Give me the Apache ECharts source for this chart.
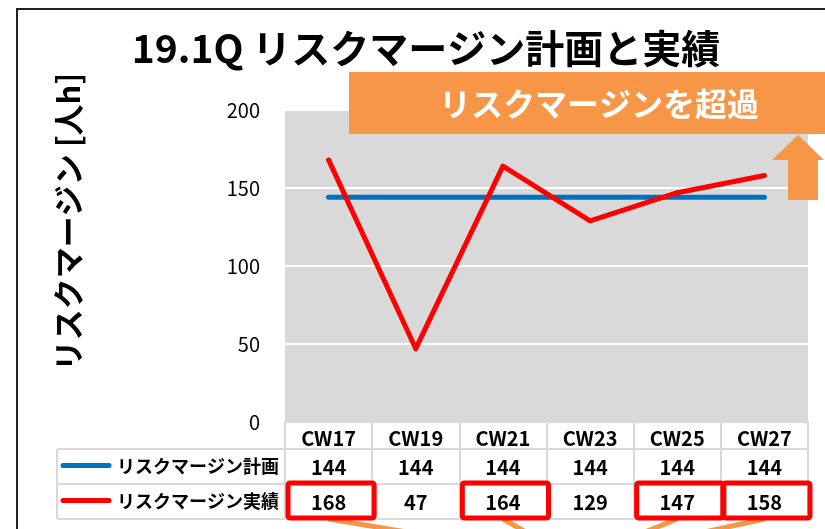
<!DOCTYPE html>
<html><head><meta charset="utf-8">
<script src="https://cdn.jsdelivr.net/npm/echarts@6/dist/echarts.min.js"></script>
<style>html,body{margin:0;padding:0;background:#fff;}#c{width:825px;height:529px;}</style>
</head><body><div id="c"></div>
<script>
const categories = ['CW17','CW19','CW21','CW23','CW25','CW27'];
const planValues = [144,144,144,144,144,144];
const actualValues = [168,47,164,129,147,158];
const yTicks = [0,50,100,150,200];
const seriesNames = ['リスクマージン計画','リスクマージン実績'];
const titleText = '19.1Q リスクマージン計画と実績';
const yAxisName = 'リスクマージン [人h]';
const bannerText = 'リスクマージンを超過';

const FONT = '"Noto Sans CJK JP", "Noto Sans", sans-serif';
const BLUE = '#0070C0', RED = '#FF0000', ORANGE = '#F79646', TBL = '#D9D9D9';

const chart = echarts.init(document.getElementById('c'), null, {renderer:'canvas'});
const lblStyle = {color:'#000', fontSize:20, fontWeight:'bold', fontFamily:FONT};
function tableAxis(offset, values, tickLen, margin, showLabel){
  return {
    type:'category', data:categories, gridIndex:0, position:'bottom', offset:offset,
    axisLine:{show:true, lineStyle:{color:TBL, width:2}},
    axisTick:{show:tickLen>0, length:tickLen, lineStyle:{color:TBL, width:2}},
    axisLabel:Object.assign({show:showLabel, margin:margin, interval:0,
      formatter:(v, i)=> values ? String(values[i]) : v}, lblStyle),
    splitLine:{show:false}
  };
}
chart.setOption({
  animation:false,
  grid:{left:285, right:17, top:110, bottom:107, show:true, backgroundColor:'#D9D9D9', borderWidth:0},
  xAxis:[
    tableAxis(0, null, 27, 6, true),
    tableAxis(27, planValues, 35, 8, true),
    tableAxis(62, actualValues, 35, 8, true),
    tableAxis(97, null, 0, 8, false)
  ],
  yAxis:{type:'value', min:yTicks[0], max:yTicks[yTicks.length-1], interval:yTicks[1]-yTicks[0],
    axisLine:{show:false}, axisTick:{show:false},
    axisLabel:{color:'#000', fontSize:20, fontFamily:FONT, margin:25},
    splitLine:{show:true, lineStyle:{color:'#FFFFFF', width:2}}},
  series:[
    {name:seriesNames[0], type:'line', data:planValues, xAxisIndex:0, symbol:'none',
      lineStyle:{color:BLUE, width:5, cap:'round', join:'round'}, z:3},
    {name:seriesNames[1], type:'line', data:actualValues, xAxisIndex:0, symbol:'none',
      lineStyle:{color:RED, width:5, cap:'round', join:'round'}, z:4}
  ]
});

const x0 = chart.convertToPixel({xAxisIndex:0}, 0);
const x1 = chart.convertToPixel({xAxisIndex:0}, 1);
const cw = x1 - x0;
const gridLeft = 285, row1Top = 449, row2Top = 484, tblBottom = 519, legLeft = 57;
const g = [];
g.push({type:'polyline', shape:{points:[[17,529],[17,9],[825,9]]}, style:{stroke:'#222', lineWidth:2, fill:null}, z:1});
g.push({type:'text', x:426, y:48, style:{text:titleText, font:'bold 39px '+FONT, fill:'#000', textAlign:'center', textVerticalAlign:'middle'}, z:10});
g.push({type:'text', x:68, y:222, rotation:Math.PI/2, style:{text:yAxisName, font:'bold 31px '+FONT, fill:'#000', textAlign:'center', textVerticalAlign:'middle'}, z:10});
[row1Top,row2Top,tblBottom].forEach(y=>g.push({type:'line', shape:{x1:legLeft,y1:y,x2:gridLeft,y2:y}, style:{stroke:TBL, lineWidth:2}, z:2}));
g.push({type:'line', shape:{x1:legLeft,y1:row1Top,x2:legLeft,y2:tblBottom}, style:{stroke:TBL, lineWidth:2}, z:2});
g.push({type:'line', shape:{x1:gridLeft,y1:row1Top,x2:gridLeft,y2:tblBottom}, style:{stroke:TBL, lineWidth:2}, z:2});
[[BLUE, seriesNames[0], (row1Top+row2Top)/2],[RED, seriesNames[1], (row2Top+tblBottom)/2]].forEach(([c,t,y])=>{
  g.push({type:'line', shape:{x1:63,y1:y-1,x2:109,y2:y-1}, style:{stroke:c, lineWidth:5, lineCap:'round'}, z:5});
  g.push({type:'text', x:279, y:y, style:{text:t, font:'bold 18px '+FONT, fill:'#000', textAlign:'right', textVerticalAlign:'middle'}, z:5});
});
const conv = [575, 560];
const over = actualValues.map((v,i)=> v>planValues[i] ? i : -1).filter(i=>i>=0);
over.forEach(i=>{
  const cx = chart.convertToPixel({xAxisIndex:0}, i);
  g.push({type:'line', shape:{x1:cx, y1:519, x2:conv[0], y2:conv[1]}, style:{stroke:ORANGE, lineWidth:5}, z:6});
});
over.forEach(i=>{
  const cx = chart.convertToPixel({xAxisIndex:0}, i);
  g.push({type:'rect', shape:{x:cx-cw/2+3, y:483, width:cw-1, height:35, r:2}, style:{stroke:RED, lineWidth:5, fill:null}, z:7});
});
g.push({type:'rect', shape:{x:349, y:72, width:480, height:62}, style:{fill:ORANGE}, z:8});
g.push({type:'text', x:599, y:104, style:{text:bannerText, font:'bold 32px '+FONT, fill:'#fff', textAlign:'center', textVerticalAlign:'middle'}, z:9});
g.push({type:'polygon', shape:{points:[[798,135],[772,160],[788,160],[788,200],[818,200],[818,160],[824,160]]}, style:{fill:ORANGE}, z:8});
chart.setOption({graphic:g});
</script></body></html>
